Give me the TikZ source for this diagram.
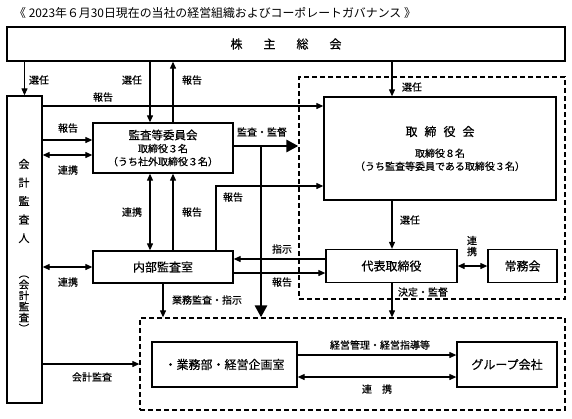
\documentclass[tikz,border=0pt]{standalone}
\usepackage{fontspec}
\setmainfont{Noto Sans CJK JP}[UprightFeatures={FakeBold=0.35}]
\newfontfamily\titlefont{Noto Sans CJK JP}
\usetikzlibrary{shapes,arrows.meta,positioning}

\begin{document}
\begin{tikzpicture}[x=1pt,y=-1pt,
  box/.style={draw, line width=1.3pt, rectangle, align=center, inner sep=0pt, font=\fontsize{10}{13}\selectfont},
  dbox/.style={draw, line width=1.3pt, dash pattern=on 5pt off 3pt, rectangle, inner sep=0pt},
  big/.style={font=\fontsize{12}{14}\selectfont},
  arr/.style={line width=1.1pt, -{Triangle[length=7pt,width=6pt]}},
  darr/.style={line width=1.1pt, {Triangle[length=7pt,width=6pt]}-{Triangle[length=7pt,width=6pt]}},
  bigarr/.style={line width=2.8pt, -{Triangle[length=12pt,width=12pt]}},
  lbl/.style={font=\fontsize{10}{11}\selectfont, inner sep=0pt}]
\useasboundingbox (0,0) rectangle (572,418);

% Title
\node[anchor=west, inner sep=0pt, font=\titlefont\fontsize{11.9}{13}\selectfont] (title) at (14,13)
  {《 2023年６月30日現在の当社の経営組織およびコーポレートガバナンス 》};

% Draw boxes
\node[box, big, minimum width=558pt, minimum height=34pt] (share) at (286,44)
  {株\hspace{21pt}主\hspace{21pt}総\hspace{21pt}会};
\node[box, minimum width=35pt, minimum height=307pt] (aud) at (24.5,249.5) {};
\node[align=center, inner sep=0pt, font=\fontsize{11}{18.5}\selectfont] (audname) at (24,201)
  {会\\計\\監\\査\\人};
\node[align=center, inner sep=0pt, font=\fontsize{10.5}{11}\selectfont] (audsub) at (24,304)
  {︵\\会\\計\\監\\査\\︶};
\node[box, minimum width=140pt, minimum height=50pt] (cmt) at (163,148)
  {{\fontsize{11.5}{14}\selectfont 監査等委員会}\\取締役３名\\（うち社外取締役３名）};
\node[dbox, minimum width=266pt, minimum height=222pt] (ubox) at (432,188) {};
\node[box, minimum width=232pt, minimum height=103pt] (brd) at (440,148.5)
  {{\fontsize{12}{14}\selectfont 取\hspace{7pt}締\hspace{7pt}役\hspace{7pt}会}\\[8pt]取締役８名\\（うち監査等委員である取締役３名）};
\node[box, big, minimum width=140pt, minimum height=32pt] (ina) at (163,267) {内部監査室};
\node[box, big, minimum width=131pt, minimum height=33pt] (rep) at (391.5,266) {代表取締役};
\node[box, big, minimum width=69pt, minimum height=33pt] (jom) at (522.5,266) {常務会};
\node[dbox, minimum width=425pt, minimum height=92pt] (lbox) at (352.5,364) {};
\node[box, big, minimum width=145pt, minimum height=45pt] (gyo) at (224.5,364.5) {・業務部・経営企画室};
\node[box, big, minimum width=100pt, minimum height=45pt] (grp) at (507,364.5) {グループ会社};

% Draw connectors from the shareholders
\draw[arr] (share.south -| aud.north) -- (aud.north);
\draw[arr] (share.south -| 150,0) -- (cmt.north -| 150,0);
\draw[arr] (cmt.north -| 173,0) -- (share.south -| 173,0);
\draw[arr] (share.south -| 392,0) -- (brd.north -| 392,0);

% Draw connectors from the auditor
\draw[arr] (aud.east |- 0,106) -- (brd.west |- 0,106);
\draw[arr] (aud.east |- 0,140) -- (cmt.west |- 0,140);
\draw[darr] (aud.east |- 0,155) -- (cmt.west |- 0,155);
\draw[darr] (aud.east |- ina.west) -- (ina.west);
\draw[arr] (aud.east |- lbox.west) -- (lbox.west);

% Draw connectors from the committee
\coordinate (split) at (261,146);
\draw[bigarr] (cmt.east |- split) -- (ubox.west |- split);
\draw[bigarr] (split) -- (lbox.north -| split);
\draw[darr] (cmt.south -| 150,0) -- (ina.north -| 150,0);
\draw[arr] (ina.north -| 173,0) -- (cmt.south -| 173,0);

% Draw connectors from the internal audit
\draw[arr] (ina.north -| 216,0) |- (brd.west |- 0,186);
\draw[arr] (rep.west |- 0,259) -- (ina.east |- 0,259);
\draw[arr] (ina.east |- 0,273) -- (rep.west |- 0,273);
\draw[arr] (ina.south) -- (lbox.north -| ina.south);

% Draw connectors from the board
\draw[arr] (brd.south -| 392,0) -- (rep.north -| 392,0);
\draw[darr] (rep) -- (jom);
\draw[arr] (rep.south -| 392,0) -- (lbox.north -| 392,0);
\draw[arr] (gyo.east |- 0,355) -- (grp.west |- 0,355);
\draw[darr] (gyo.east |- 0,377) -- (grp.west |- 0,377);

% Labels
\node[lbl] (selAud) at (39,80) {選任};
\node[lbl] (selCmt) at (132,80) {選任};
\node[lbl] (repShare) at (192,80) {報告};
\node[lbl] (repBrdA) at (103,97) {報告};
\node[lbl] (repCmt) at (68,128) {報告};
\node[lbl] (coCmt) at (68,170) {連携};
\node[lbl] (selBrd) at (412,87) {選任};
\node[lbl] (audSup) at (262,132) {監査・監督};
\node[lbl] (repBrdB) at (233,197) {報告};
\node[lbl] (coIna) at (132,212) {連携};
\node[lbl] (repIna) at (192,212) {報告};
\node[lbl] (coAud) at (68,282) {連携};
\node[lbl] (instr) at (282,249) {指示};
\node[lbl] (repRep) at (282,282) {報告};
\node[lbl] (selRep) at (410,220) {選任};
\node[lbl, align=center, font=\fontsize{10}{11}\selectfont] (coJom) at (472,246) {連\\携};
\node[lbl] (decSup) at (423,292) {決定・監督};
\node[lbl] (opsAud) at (207,300) {業務監査・指示};
\node[lbl] (mgmt) at (380,345) {経営管理・経営指導等};
\node[lbl] (coGrp) at (377,389) {連\hspace{10pt}携};
\node[lbl] (accAud) at (92,377) {会計監査};
\end{tikzpicture}
\end{document}
